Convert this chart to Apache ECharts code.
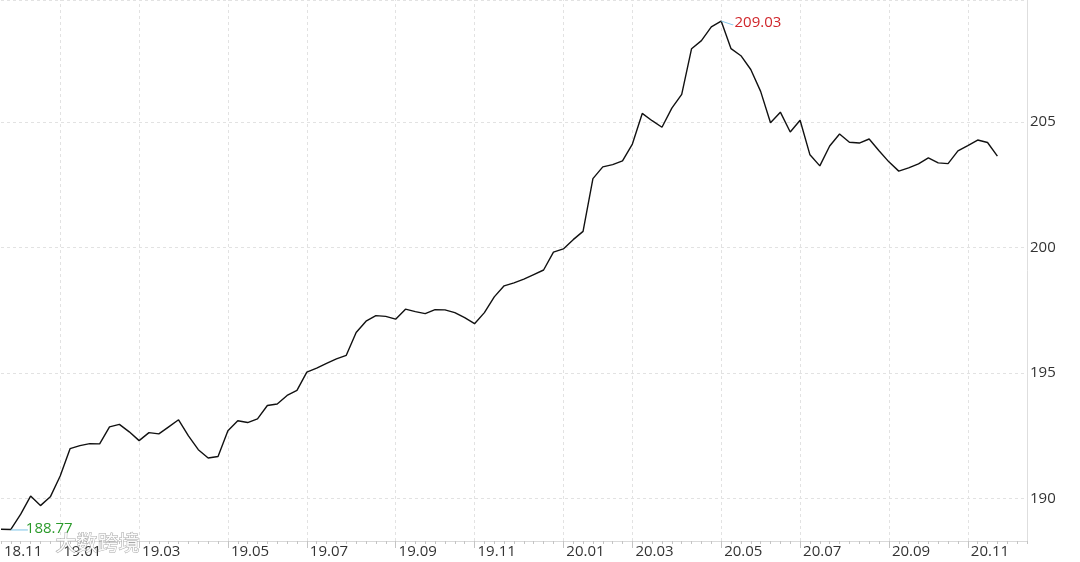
<!DOCTYPE html>
<html>
<head>
<meta charset="utf-8">
<script src="https://cdn.jsdelivr.net/npm/echarts@6/dist/echarts.min.js"></script>
<style>
html,body{margin:0;padding:0;background:#fff;}
#chart{width:1080px;height:562px;}
</style>
</head>
<body>
<div id="chart"></div>
<script>
// Weekly categories (one representative trading date per trading week)
const weeks = [
'2018-11-23','2018-11-30','2018-12-07','2018-12-14','2018-12-21','2018-12-28',
'2019-01-04','2019-01-11','2019-01-18','2019-01-25','2019-02-01','2019-02-15','2019-02-22','2019-02-28',
'2019-03-08','2019-03-15','2019-03-22','2019-03-29','2019-04-04','2019-04-12','2019-04-19','2019-04-26','2019-04-30',
'2019-05-10','2019-05-17','2019-05-24','2019-05-31','2019-06-06','2019-06-14','2019-06-21','2019-06-28',
'2019-07-05','2019-07-12','2019-07-19','2019-07-26','2019-08-02','2019-08-09','2019-08-16','2019-08-23','2019-08-30',
'2019-09-06','2019-09-12','2019-09-20','2019-09-27','2019-10-11','2019-10-18','2019-10-25','2019-10-31',
'2019-11-08','2019-11-15','2019-11-22','2019-11-29','2019-12-06','2019-12-13','2019-12-20','2019-12-27','2019-12-31',
'2020-01-10','2020-01-17','2020-01-23','2020-02-07','2020-02-14','2020-02-21','2020-02-28',
'2020-03-06','2020-03-13','2020-03-20','2020-03-27','2020-04-03','2020-04-10','2020-04-17','2020-04-24','2020-04-30',
'2020-05-08','2020-05-15','2020-05-22','2020-05-29','2020-06-05','2020-06-12','2020-06-19','2020-06-24',
'2020-07-03','2020-07-10','2020-07-17','2020-07-24','2020-07-31','2020-08-07','2020-08-14','2020-08-21','2020-08-28',
'2020-09-04','2020-09-11','2020-09-18','2020-09-25','2020-09-30','2020-10-16','2020-10-23','2020-10-30',
'2020-11-06','2020-11-13','2020-11-20','2020-11-27','2020-12-04','2020-12-11','2020-12-18'
];

// Index values (weekly)
const values = [
188.78,188.77,189.38,190.10,189.72,190.07,
190.90,191.99,192.11,192.19,192.18,192.86,192.96,192.66,
192.31,192.63,192.58,192.86,193.14,192.50,191.95,191.62,191.68,
192.70,193.10,193.03,193.18,193.71,193.77,194.11,194.31,
195.04,195.20,195.39,195.57,195.71,196.62,197.07,197.29,197.26,
197.15,197.55,197.45,197.37,197.53,197.52,197.41,197.21,
196.97,197.41,198.04,198.48,198.60,198.75,198.93,199.11,199.82,
199.95,200.32,200.65,202.75,203.22,203.31,203.46,
204.13,205.35,205.06,204.80,205.56,206.11,207.93,208.25,208.80,
209.03,207.93,207.65,207.10,206.23,204.98,205.40,204.61,
205.08,203.70,203.26,204.05,204.53,204.20,204.17,204.33,203.86,
203.42,203.05,203.18,203.34,203.58,203.38,203.35,203.86,
204.07,204.29,204.19,203.65
];

// Y range shown on the right axis
const yMin = 188.31;
const yMax = 209.87;

function isOddMonthStart(i){
  if (i === 0) return false;
  const v = weeks[i], p = weeks[i-1];
  if (v.slice(0,7) === p.slice(0,7)) return false;
  return parseInt(v.slice(5,7), 10) % 2 === 1;
}
function isLabelCat(i){ return i === 0 || isOddMonthStart(i); }
function fmtLabel(v){ return v.slice(2,4) + '.' + v.slice(5,7); }
const gridCats = weeks.filter((v, i) => isOddMonthStart(i));

const chart = echarts.init(document.getElementById('chart'), null, {renderer:'canvas'});
const font = "'Open Sans', 'Noto Sans', sans-serif";
const option = {
  animation: false,
  backgroundColor: '#ffffff',
  grid: { left: 1, right: 53, top: -4, bottom: 21, containLabel: false },
  xAxis: [{
    type: 'category',
    data: weeks,
    boundaryGap: false,
    position: 'bottom',
    axisLine: { lineStyle: { color: '#d9d9d9', width: 1 } },
    axisTick: { interval: 0, length: 3, lineStyle: { color: '#c4c4c4' } },
    axisLabel: {
      interval: (i) => isLabelCat(i), formatter: fmtLabel, align: 'left',
      showMinLabel: true,
      padding: [0, 0, 0, 3], color: '#333', fontSize: 15, fontFamily: font, margin: 3
    },
    splitLine: { show: false }
  }, {
    type: 'category',
    data: weeks,
    boundaryGap: false,
    position: 'bottom',
    axisLine: { show: false },
    axisLabel: { show: false },
    splitLine: { show: false },
    axisTick: { interval: (i) => isOddMonthStart(i), length: 7, lineStyle: { color: '#c4c4c4' } }
  }],
  yAxis: {
    type: 'value',
    position: 'right',
    min: yMin, max: yMax, splitNumber: 5,
    axisLine: { show: true, lineStyle: { color: '#dedede' } },
    axisTick: { show: false },
    axisLabel: { showMinLabel: false, showMaxLabel: false, color: '#333', fontSize: 15, fontFamily: font, margin: 3 },
    splitLine: { show: true, lineStyle: { color: '#e2e2e2', type: [3, 3] } }
  },
  series: [{
    type: 'line',
    data: [],
    z: 1,
    markLine: {
      z: 1,
      silent: true,
      symbol: 'none',
      label: { show: false },
      lineStyle: { color: '#e2e2e2', type: [3, 3], width: 1 },
      data: gridCats.map(c => ({ xAxis: c }))
    }
  }, {
    type: 'line',
    data: values,
    z: 3,
    xAxisIndex: 0,
    showSymbol: false,
    smooth: false,
    lineStyle: { color: '#111', width: 1.4 },
    markPoint: {
      z: 6,
      silent: true,
      data: [{
        type: 'max',
        symbol: 'path://M0,0L12,4',
        symbolSize: [12, 4],
        symbolOffset: [6, 2],
        itemStyle: { color: 'none', borderColor: '#7cc3e6', borderWidth: 1 },
        label: {
          show: true, position: 'right', distance: 0, offset: [-3, 0],
          color: '#d0262b', fontSize: 15, fontFamily: font,
          formatter: p => p.value.toFixed(2)
        }
      }, {
        type: 'min',
        symbol: 'rect',
        symbolSize: [17, 1],
        symbolOffset: [8.5, 0.5],
        itemStyle: { color: '#7cc3e6' },
        label: {
          show: true, position: 'right', distance: 0, offset: [-2, -1],
          color: '#2b9a2b', fontSize: 15, fontFamily: font,
          formatter: p => p.value.toFixed(2)
        }
      }]
    }
  }],
  graphic: [{
    type: 'text', left: 55, top: 531, z: 100,
    style: {
      text: '大数跨境', fontSize: 21, fontFamily: "'Noto Sans CJK SC', sans-serif",
      fill: 'rgba(255,255,255,0.92)', stroke: 'rgba(120,120,120,0.65)', lineWidth: 1
    }
  }]
};
chart.setOption(option);
</script>
</body>
</html>
